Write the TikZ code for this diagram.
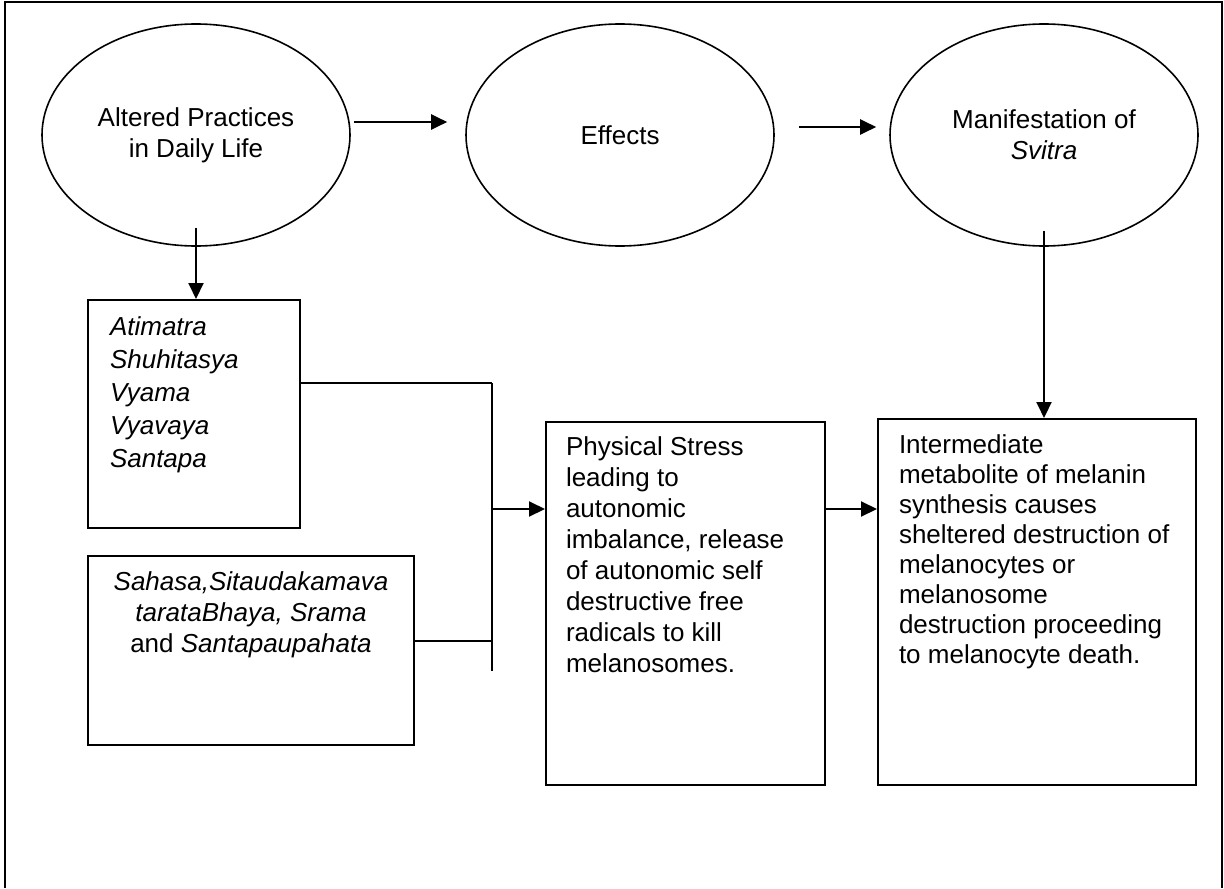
\documentclass[tikz,border=0pt]{standalone}
\usepackage{fontspec}
\setmainfont{Liberation Sans}
\usetikzlibrary{positioning,shapes.geometric,arrows.meta}

\begin{document}
\begin{tikzpicture}[x=0.5pt, y=-0.5pt, node distance=212pt, on grid,
  line width=1pt, >={Triangle[length=8pt,width=7.5pt]},
  phase/.style={draw, ellipse, line width=0.8pt, minimum width=154pt,
    minimum height=111pt, inner sep=0pt, align=center,
    font=\fontsize{13}{15.5}\selectfont},
  block/.style={draw, rectangle, anchor=north west, inner sep=0pt},
  txt/.style={inner sep=0pt, anchor=base west, align=left,
    font=\fontsize{13}{15.5}\selectfont}]
  \useasboundingbox (0,0) rectangle (1224,888);
  % page frame, open at the bottom
  \draw (5,888) -- (5,2) -- (1222,2) -- (1222,888);

  % top row
  \node[phase] (life) at (196,135) {Altered Practices\\in Daily Life};
  \node[phase] (effects) [right=of life] {Effects};
  \node[phase] (svitra) [right=of effects] {Manifestation of\\\textit{Svitra}};

  % boxes
  \node[block, minimum width=106pt, minimum height=114pt] (acts) at (87,299) {};
  \node[block, minimum width=163pt, minimum height=94.5pt] (rites) at (87,555) {};
  \node[block, minimum width=139.5pt, minimum height=181.5pt] (stress) at (545,421) {};
  \node[block, minimum width=159pt, minimum height=183pt] (death) at (877,418) {};

  % texts sit on their last baseline
  \node[txt, font=\fontsize{13}{16.5}\selectfont\itshape] (actstext)
    at ([shift={(11pt,-84pt)}]acts.north west)
    {Atimatra\\Shuhitasya\\Vyama\\Vyavaya\\Santapa};
  \node[txt, anchor=base, align=center] (ritestext)
    at ([yshift=-48.5pt]rites.north)
    {\textit{Sahasa,Sitaudakamava}\\\textit{tarataBhaya, Srama}\\and \textit{Santapaupahata}};
  \node[txt] (stresstext) at ([shift={(10pt,-125.5pt)}]stress.north west)
    {Physical Stress\\leading to\\autonomic\\imbalance, release\\of autonomic self\\destructive free\\radicals to kill\\melanosomes.};
  \node[txt, font=\fontsize{13}{15}\selectfont] (deathtext)
    at ([shift={(10.5pt,-122.5pt)}]death.north west)
    {Intermediate\\metabolite of melanin\\synthesis causes\\sheltered destruction of\\melanocytes or\\melanosome\\destruction proceeding\\to melanocyte death.};

  % junction
  \coordinate (jtop) at (492,383);
  \coordinate (jin) at (492,509);
  \coordinate (jb2) at (492,641);
  \coordinate (jbot) at (492,671);

  \draw[->] ([shift={(1.5pt,6.5pt)}]life.east) -- ([shift={(-9pt,6.5pt)}]effects.west);
  \draw[->] ([shift={(12pt,4pt)}]effects.east) -- ([shift={(-6.5pt,4pt)}]svitra.west);
  \draw[->] ([yshift=9.5pt]life.south) -- (life.south |- acts.north);
  \draw[->] ([yshift=8pt]svitra.south) -- (svitra.south |- death.north);
  \draw (jtop) -- (jbot);
  \draw (acts.east |- jtop) -- (jtop);
  \draw (rites.east |- jb2) -- (jb2);
  \draw[->] (jin) -- (jin -| stress.west);
  \draw[->] (stress.east |- jin) -- (death.west |- jin);
\end{tikzpicture}
\end{document}
